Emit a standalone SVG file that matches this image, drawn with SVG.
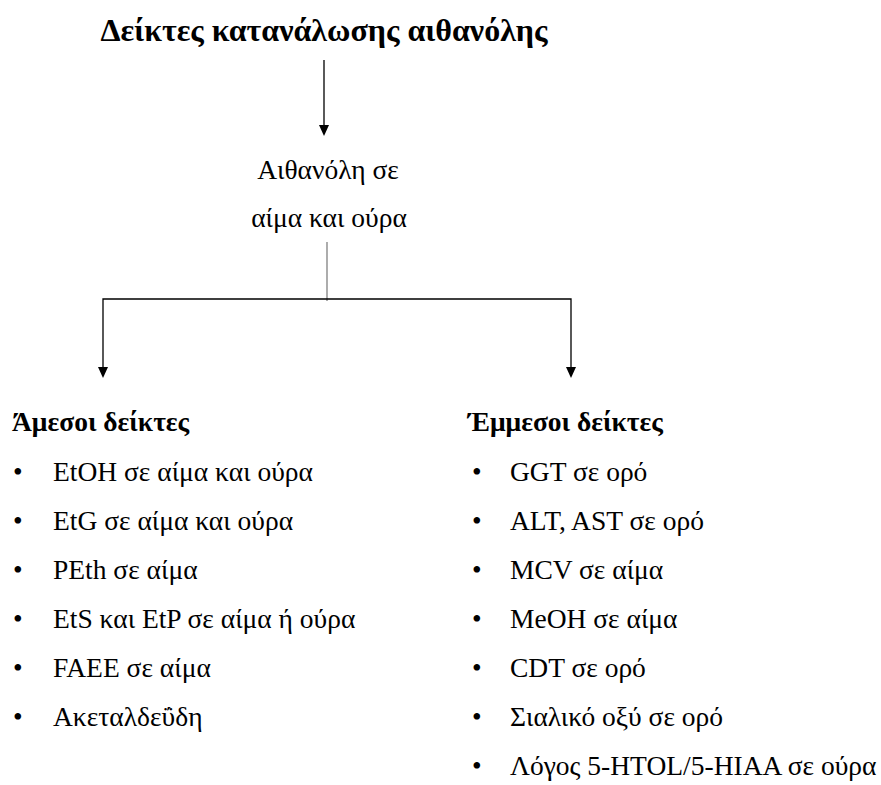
<svg xmlns="http://www.w3.org/2000/svg" width="881" height="785" viewBox="0 0 881 785">
  <style>
    text { font-family: "Liberation Serif", "DejaVu Serif", serif; fill: #000; }
    .title { font-size: 32px; font-weight: bold; }
    .head { font-size: 27.5px; font-weight: bold; }
    .item { font-size: 27.5px; }
    .bullet { font-size: 27.5px; }
    .line { stroke: #000; stroke-width: 1.3; fill: none; }
    .stem { stroke: #808080; stroke-width: 1.3; fill: none; }
    .head-tip { fill: #000; }
  </style>
  <defs>
    <!-- downward arrow tip, tip point at (0,0) -->
    <path id="tip" class="head-tip" d="M-5,-11 L5,-11 L0,0 Z"/>
  </defs>

  <rect width="881" height="785" fill="#fff"/>

  <g id="title">
    <text class="title" x="324" y="41" text-anchor="middle">Δείκτες κατανάλωσης αιθανόλης</text>
  </g>

  <g id="ethanol">
    <text class="item" x="328" y="179" text-anchor="middle">Αιθανόλη σε</text>
    <text class="item" x="329" y="227" text-anchor="middle">αίμα και ούρα</text>
  </g>

  <g id="connectors">
    <line class="line" x1="324" y1="60" x2="324" y2="127"/>
    <use href="#tip" x="324" y="136"/>
    <line class="stem" x1="327" y1="242" x2="327" y2="301"/>
    <polyline class="line" points="103,369 103,299 571,299 571,369"/>
    <use href="#tip" x="103" y="378"/>
    <use href="#tip" x="571" y="378"/>
  </g>

  <g id="direct">
    <text class="head" x="12" y="431">Άμεσοι δείκτες</text>
    <g>
      <text class="bullet" x="13" y="481">•</text>
      <text class="bullet" x="13" y="530">•</text>
      <text class="bullet" x="13" y="579">•</text>
      <text class="bullet" x="13" y="628">•</text>
      <text class="bullet" x="13" y="677">•</text>
      <text class="bullet" x="13" y="726">•</text>
    </g>
    <text class="item" x="53" y="481">EtOH σε αίμα και ούρα</text>
    <text class="item" x="53" y="530">EtG σε αίμα και ούρα</text>
    <text class="item" x="53" y="579">PEth σε αίμα</text>
    <text class="item" x="53" y="628">EtS και EtP σε αίμα ή ούρα</text>
    <text class="item" x="53" y="677">FAEE σε αίμα</text>
    <text class="item" x="53" y="726">Ακεταλδεΰδη</text>
  </g>

  <g id="indirect">
    <text class="head" x="468" y="431">Έμμεσοι δείκτες</text>
    <g>
      <text class="bullet" x="472" y="481">•</text>
      <text class="bullet" x="472" y="530">•</text>
      <text class="bullet" x="472" y="579">•</text>
      <text class="bullet" x="472" y="628">•</text>
      <text class="bullet" x="472" y="677">•</text>
      <text class="bullet" x="472" y="726">•</text>
      <text class="bullet" x="472" y="775">•</text>
    </g>
    <text class="item" x="510" y="481">GGT σε ορό</text>
    <text class="item" x="510" y="530">ALT, AST σε ορό</text>
    <text class="item" x="510" y="579">MCV σε αίμα</text>
    <text class="item" x="510" y="628">MeOH σε αίμα</text>
    <text class="item" x="510" y="677">CDT σε ορό</text>
    <text class="item" x="510" y="726">Σιαλικό οξύ σε ορό</text>
    <text class="item" x="510" y="775">Λόγος 5-HTOL/5-HIAA σε ούρα</text>
  </g>
</svg>
